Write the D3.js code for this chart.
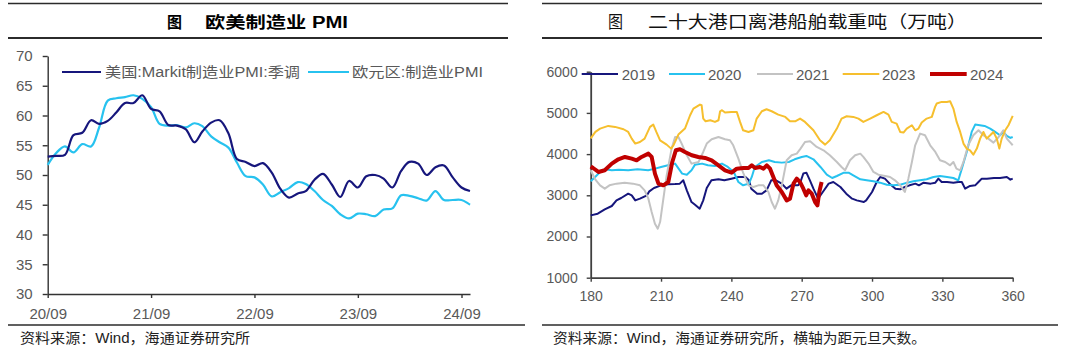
<!DOCTYPE html>
<html><head><meta charset="utf-8">
<script src="https://cdn.jsdelivr.net/npm/d3@7"></script>
<style>
body{margin:0;background:#fff;}
svg{display:block;}
text{font-family:"Liberation Sans",Arial,"Noto Sans CJK SC",sans-serif;}
</style></head><body>
<svg id="c" width="1080" height="359"></svg>
<script>
// ---------- DATA ----------
// Left chart: monthly PMI, Aug 2020 .. Sep 2024
const pmiFirstMonth = "2020-08";
const usPMI = [53.1,53.2,53.4,56.7,57.1,59.2,58.6,59.1,60.5,62.1,62.1,63.4,61.1,60.7,58.4,58.3,57.7,55.5,57.3,58.8,59.2,57.0,52.7,52.2,51.5,52.0,50.4,47.7,46.2,46.9,47.3,49.2,50.2,48.4,46.3,49.0,47.9,49.8,50.0,49.4,47.9,50.7,52.2,51.9,50.0,51.3,51.6,49.6,47.9,47.3];
const euPMI = [51.7,53.7,54.8,53.8,55.2,54.8,57.9,62.5,62.9,63.1,63.4,62.8,61.4,58.6,58.3,58.4,58.0,58.7,58.2,56.5,55.5,54.6,52.1,49.8,49.6,48.4,46.4,47.1,47.8,48.8,48.5,47.3,45.8,44.8,43.4,42.7,43.5,43.4,43.1,44.2,44.4,46.6,46.5,46.1,45.7,47.3,45.8,45.8,45.8,45.0];
const pmiXTicks = ["2020-09","2021-09","2022-09","2023-09","2024-09"];
const pmiXLabels = ["20/09","21/09","22/09","23/09","24/09"];
const pmiYTicks = [30,35,40,45,50,55,60,65,70];
const pmiNames = ["美国:Markit制造业PMI:季调","欧元区:制造业PMI"];

// Right chart: departing ship tonnage (10k t) by day of year
const portXTicks = [180,210,240,270,300,330,360];
const portYTicks = [1000,2000,3000,4000,5000,6000];
const portNames = ["2019","2020","2021","2023","2024"];
const port2019 = [[180,2513],[183,2554],[186,2659],[189,2740],[191,2877],[193,2934],[196,3039],[197.5,2999],[199,2877],[201,2918],[204,2999],[205,3096],[207,3177],[210,3242],[213,3266],[216,3274],[218,3283],[219.5,3364],[221,3120],[223,2837],[224.5,2772],[226.5,2675],[228,2877],[229.5,3177],[231.5,3364],[234.5,3388],[237,3364],[240,3404],[243,3445],[246,3445],[247.5,3364],[248.5,3161],[251,3039],[253,3039],[255,3120],[257,3364],[259,3364],[261.5,3283],[263.5,3161],[265.5,3242],[268.5,3242],[269.5,3330],[270.7,3530],[272,3550],[273.5,3364],[275,3161],[277,2918],[279,3080],[281.5,3283],[283.5,3323],[286.5,3201],[289,3039],[291.5,2918],[293.5,2877],[296.5,2837],[297.5,2877],[300,3080],[302,3323],[303.5,3445],[305.5,3404],[307.5,3283],[310,3161],[312,3145],[314,3201],[316,3242],[318.5,3283],[320,3242],[322,3307],[325,3283],[327,3307],[328.3,3404],[329.7,3323],[332,3323],[334.7,3307],[336.8,3323],[338.3,3323],[339.7,3161],[341.8,3226],[344,3242],[345.4,3323],[346.8,3404],[349,3404],[352,3420],[354.6,3420],[357.5,3445],[359,3380],[360,3404]];
const port2020 = [[180,3340],[182,3450],[184,3566],[186,3631],[189,3607],[192,3623],[196,3607],[200,3631],[204.5,3607],[207.5,3647],[210,3688],[213,3728],[216,3769],[217.5,3647],[219,3526],[221,3501],[223,3607],[224.5,3744],[227.5,3769],[230,3728],[233,3712],[236,3769],[238.5,3688],[241,3566],[243,3323],[245,3242],[247.5,3283],[248.7,3445],[250,3688],[253,3809],[256,3850],[258.5,3809],[261.5,3793],[264.5,3809],[267,3874],[270,3931],[272,3955],[275,3874],[278,3688],[280.7,3501],[283,3420],[285,3469],[288,3550],[290,3550],[292,3485],[295,3388],[297.7,3364],[300.6,3339],[303.4,3307],[306.3,3258],[309,3242],[312,3258],[315,3307],[317.6,3339],[320.5,3364],[323.3,3388],[326.2,3445],[329,3469],[332,3445],[334.7,3420],[336.8,3364],[338.3,3647],[340.4,4052],[342.5,4538],[344,4716],[346,4700],[348,4684],[350.4,4619],[352.5,4538],[354.6,4457],[356,4538],[357.5,4441],[359,4392],[360,4416]];
const port2021 = [[180,3607],[182,3380],[184,3240],[186,3161],[188,3242],[191,3283],[194.5,3307],[198,3283],[201,3242],[203,3120],[204.6,2918],[206,2594],[207.4,2311],[208.6,2189],[209.6,2351],[211,2918],[212.4,3485],[214.5,4133],[216,4416],[217.4,4416],[218.8,4255],[221,3971],[223,3769],[226,3809],[228,4052],[229.5,4255],[231.6,4360],[234.5,4416],[237.3,4360],[239.4,4335],[240.8,4214],[243,3890],[245,3550],[247.3,3242],[249.4,3201],[251.5,3242],[253.7,3242],[255.8,3080],[257.2,2837],[258.6,2675],[260,2877],[261.5,3242],[263.6,3850],[265.7,3971],[267.9,4011],[269.5,4133],[271.4,4295],[273.6,4311],[276.4,4173],[279.3,4092],[282,3971],[285,3809],[287,3688],[288.5,3607],[290.6,3850],[292.8,3971],[295,4011],[296.3,3931],[298.5,3769],[300.6,3566],[302.7,3501],[305.6,3469],[307.7,3445],[309.8,3364],[312,3242],[314,3080],[315.5,3404],[317,3809],[318.4,4214],[320.5,4497],[322.6,4457],[324.8,4214],[327,4052],[329,3850],[331.2,3809],[333.3,3728],[334.7,3809],[336,3647],[337.6,3607],[339,3809],[341,4214],[343.2,4457],[345.4,4578],[347.5,4457],[349.6,4376],[351.8,4279],[354,4416],[356,4578],[357.5,4376],[359,4279],[360,4214]];
const port2023 = [[180,4380],[182,4538],[184,4619],[187.5,4684],[190.4,4660],[194,4603],[196,4538],[197.5,4376],[199,4255],[201,4295],[203,4376],[205.3,4660],[206.7,4716],[208,4538],[209.6,4335],[212.4,4230],[214.3,4133],[215.3,4214],[217.4,4473],[220.2,4619],[222.4,4943],[223.8,5105],[226.6,5202],[227.3,5186],[228,4862],[229,4797],[231,4822],[233,4781],[234.5,4822],[235.2,5040],[236,5065],[237.3,5008],[240,5024],[242.3,5024],[243.7,4781],[245,4578],[247.3,4538],[249.4,4578],[250.8,4862],[253,5040],[255,5089],[257.2,5040],[260,4959],[263,4903],[265,4797],[267.2,4797],[269.3,4862],[271.4,4781],[275,4578],[277.8,4335],[280,4230],[282,4335],[285,4619],[287,4862],[289.2,4919],[292,4903],[294.2,4862],[296.3,4781],[299.2,4862],[302,4943],[304.9,5024],[307,4959],[308.4,4781],[310.5,4740],[312,4538],[313.4,4522],[314.8,4619],[317,4700],[318.4,4578],[319.8,4619],[321.2,4765],[323.3,4862],[325.5,4903],[326.9,5146],[327.6,5227],[329.7,5267],[331.9,5267],[333.3,5283],[334.7,5105],[336.1,4781],[337.6,4538],[339,4255],[340.4,4133],[341.8,4092],[343.2,3987],[344.7,4133],[346.1,4376],[347.5,4538],[348.9,4376],[350.4,4457],[351.8,4538],[353.2,4376],[354.3,4133],[355.3,4376],[356.8,4578],[358.2,4700],[360,4927]];
const port2024 = [[180,3700],[181,3663],[183.3,3566],[186,3607],[189,3769],[191.8,3874],[194.6,3931],[197.5,3890],[199.6,3850],[201.7,3931],[204.6,4011],[206,3931],[207.4,3526],[208.9,3283],[211,3242],[213.1,3323],[214.8,3809],[216.3,4092],[218.1,4117],[220.2,4052],[223.1,3971],[225.9,3931],[228.8,3906],[231.6,3850],[234.5,3728],[237.3,3607],[240.1,3550],[242.3,3647],[245.1,3663],[247.3,3663],[248.7,3728],[250.1,3663],[252.2,3688],[253.7,3647],[255.1,3728],[256.5,3647],[257.9,3445],[259.3,3242],[261.5,3080],[263.6,2877],[265,2918],[266.5,3283],[267.9,3404],[269.3,3320],[270.7,3161],[271.9,2999],[272.9,3120],[274.3,3039],[275.7,2837],[276.7,2756],[277.5,3080],[278.5,3323]];

// ---------- STYLE ----------
const C_NAVY = "#16167c", C_CYAN = "#27c2ef", C_GRAY = "#c3c3c3", C_YEL = "#f6bf2e", C_RED = "#c00000";
const TXT = "#595959";
const svg = d3.select("#c");

function rule(x1, x2, y, w) {
  svg.append("line").attr("x1", x1).attr("x2", x2).attr("y1", y).attr("y2", y)
    .attr("stroke", "#2b2b2b").attr("stroke-width", w);
}
function label(s, x, y, size, len, opts = {}) {
  const t = svg.append("text").attr("x", x).attr("y", y).text(s)
    .attr("font-size", size).attr("fill", opts.fill || TXT)
    .attr("font-weight", opts.weight || "normal");
  if (opts.family) t.style("font-family", opts.family);
  if (len) t.attr("textLength", len).attr("lengthAdjust", "spacingAndGlyphs");
  return t;
}
const CJK = '"Noto Sans CJK SC","Liberation Sans",sans-serif';

// ---------- FRAME: rules, titles, sources ----------
rule(8, 508, 3.5, 1.7); rule(8, 508, 38, 2.2); rule(8, 525, 325, 1.5);
rule(542, 1042, 3.5, 1.7); rule(542, 1042, 38, 2.2); rule(542, 1058, 325, 1.5);

label("图", 167, 28, 16, 15, {fill: "#000", weight: "bold", family: CJK});
label("欧美制造业 PMI", 205, 28, 16, 143, {fill: "#000", weight: "bold"});
label("图", 608, 28, 17, 15, {fill: "#111", family: CJK});
label("二十大港口离港船舶载重吨（万吨）", 648, 28, 17, 319, {fill: "#111", family: CJK});

label("资料来源：Wind，海通证券研究所", 20, 343, 14, 230, {fill: "#222"});
label("资料来源：Wind，海通证券研究所，横轴为距元旦天数。", 553, 343, 14, 373, {fill: "#222"});

// ---------- LEFT CHART ----------
const parseM = d3.timeParse("%Y-%m");
const months = d3.timeMonth.range(parseM(pmiFirstMonth), d3.timeMonth.offset(parseM(pmiFirstMonth), usPMI.length));
const monthEnd = d => d3.timeMonth.offset(d, 1); // plotted at end of month
const xL = d3.scaleTime().domain([monthEnd(months[0]), monthEnd(months[months.length - 1])]).range([47.7, 470]);
const yL = d3.scaleLinear().domain([30, 70]).range([294, 56]);

const gL = svg.append("g");
const axL = gL.append("g").attr("transform", "translate(47.7,0)")
  .call(d3.axisLeft(yL).tickValues(pmiYTicks).tickSize(5).tickSizeOuter(0).tickPadding(10));
const axLx = gL.append("g").attr("transform", "translate(0,294)")
  .call(d3.axisBottom(xL).tickValues(pmiXTicks.map(parseM)).tickFormat((d, i) => pmiXLabels[i])
    .tickSize(4).tickSizeOuter(0).tickPadding(10));
[axL, axLx].forEach(a => {
  a.select(".domain").attr("stroke", "#333").attr("stroke-width", 1.4);
  a.selectAll(".tick line").attr("stroke", "#333").attr("stroke-width", 1.4);
  a.selectAll(".tick text").attr("fill", TXT).attr("font-size", 15)
    .style("font-family", '"Liberation Sans",Arial,sans-serif');
});

const lineL = d3.line().x((d, i) => xL(monthEnd(months[i]))).y(d => yL(d)).curve(d3.curveCatmullRom.alpha(0.5));
gL.append("path").datum(euPMI).attr("d", lineL).attr("fill", "none").attr("stroke", C_CYAN).attr("stroke-width", 2.2);
gL.append("path").datum(usPMI).attr("d", lineL).attr("fill", "none").attr("stroke", C_NAVY).attr("stroke-width", 2.2);

// legend left
const legL = [{x1: 62, x2: 101, tx: 105, len: 195, c: C_NAVY}, {x1: 308, x2: 349, tx: 352, len: 131, c: C_CYAN}];
legL.forEach((d, i) => {
  svg.append("line").attr("x1", d.x1).attr("x2", d.x2).attr("y1", 72).attr("y2", 72)
    .attr("stroke", d.c).attr("stroke-width", 2.2);
  label(pmiNames[i], d.tx, 77, 14, d.len);
});

// ---------- RIGHT CHART ----------
const xR = d3.scaleLinear().domain([180, 360]).range([590.7, 1012.7]);
const yR = d3.scaleLinear().domain([1000, 6000]).range([277.7, 71.7]);
const gR = svg.append("g");
const axR = gR.append("g").attr("transform", "translate(590.7,0)")
  .call(d3.axisLeft(yR).tickValues(portYTicks).tickFormat(d3.format("d")).tickSize(4).tickSizeOuter(0).tickPadding(9));
const axRx = gR.append("g").attr("transform", "translate(0,277.7)")
  .call(d3.axisBottom(xR).tickValues(portXTicks).tickFormat(d3.format("d")).tickSize(4).tickSizeOuter(0).tickPadding(9.4));
[axR, axRx].forEach(a => {
  a.select(".domain").attr("stroke", "#404040").attr("stroke-width", 1.8);
  a.selectAll(".tick line").attr("stroke", "#404040").attr("stroke-width", 1.4);
  a.selectAll(".tick text").attr("fill", TXT).attr("font-size", 14)
    .style("font-family", '"Liberation Sans",Arial,sans-serif');
});

const series = [
  {data: port2019, c: C_NAVY, w: 2},
  {data: port2020, c: C_CYAN, w: 2},
  {data: port2021, c: C_GRAY, w: 2},
  {data: port2023, c: C_YEL, w: 2},
  {data: port2024, c: C_RED, w: 4}
];
const lineR = d3.line().x(d => xR(d[0])).y(d => yR(d[1]));
series.forEach(s => {
  gR.append("path").datum(s.data).attr("d", lineR).attr("fill", "none")
    .attr("stroke", s.c).attr("stroke-width", s.w).attr("stroke-linejoin", "round");
});

// legend right
const legR = [{x1: 581.7, x2: 618, tx: 621.7}, {x1: 669, x2: 705, tx: 708}, {x1: 757, x2: 793, tx: 796},
              {x1: 842.7, x2: 879.3, tx: 882}, {x1: 930, x2: 966.7, tx: 970}];
legR.forEach((d, i) => {
  svg.append("line").attr("x1", d.x1).attr("x2", d.x2).attr("y1", 74).attr("y2", 74)
    .attr("stroke", series[i].c).attr("stroke-width", series[i].w);
  label(portNames[i], d.tx, 79.5, 15, 33.5);
});
</script>
</body></html>
